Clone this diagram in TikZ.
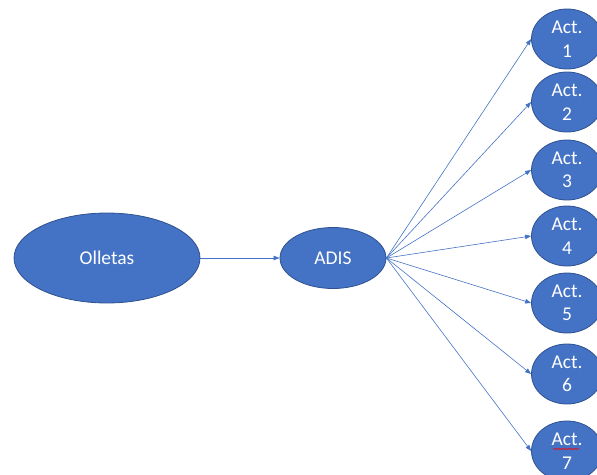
\documentclass[tikz,border=0pt]{standalone}
\usepackage{fontspec}
\setmainfont{Carlito}
\usetikzlibrary{arrows.meta,shapes.geometric,decorations.pathmorphing}
\definecolor{ofill}{HTML}{4472C4}
\definecolor{oedge}{HTML}{2F528F}
\begin{document}
\begin{tikzpicture}[x=1pt,y=-1pt,
  blob/.style={ellipse, draw=oedge, line width=0.8pt, fill=ofill, text=white,
    font=\fontsize{19.5}{23.5}\selectfont, inner sep=0pt, align=center},
  actnode/.style={blob, minimum width=71pt, minimum height=60pt},
  link/.style={draw=ofill, line width=0.6pt, -{Triangle[length=6pt,width=4.5pt]}}]
\useasboundingbox (0,0) rectangle (597,474);
\node[blob, minimum width=186pt, minimum height=90pt] (oll) at (107,258) {Olletas};
\node[blob, minimum width=106pt, minimum height=61pt] (adis) at (333,258) {ADIS};
\node[actnode] (a1) at (567,39) {Act.\\1};
\node[actnode] (a2) at (567,102) {Act.\\2};
\node[actnode] (a3) at (567,170) {Act.\\3};
\node[actnode] (a4) at (567,236) {Act.\\4};
\node[actnode] (a5) at (567,303) {Act.\\5};
\node[actnode] (a6) at (567,374) {Act.\\6};
\node[actnode] (a7) at (567,451) {Act.\\7};
\draw[link] (oll.east) -- (adis.west);
\foreach \n in {a1,a2,a3,a4,a5,a6,a7} {
  \draw[link] (adis.east) -- (\n.west);
}
\draw[red, line width=0.5pt, decorate, decoration={snake, amplitude=0.7pt, segment length=3pt}]
  ([xshift=-14pt,yshift=2pt]a7.center) -- ([xshift=12pt,yshift=2pt]a7.center);
\end{tikzpicture}
\end{document}
